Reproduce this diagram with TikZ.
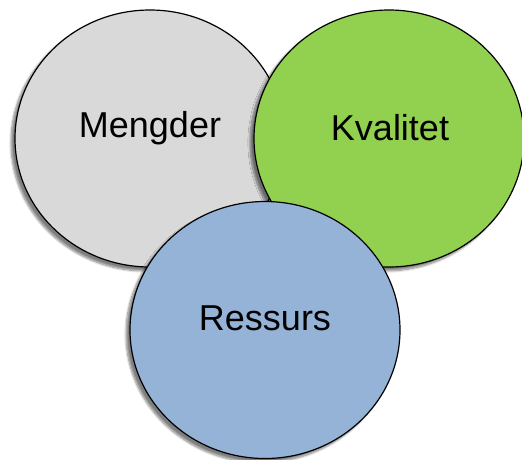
\documentclass[tikz,border=0pt]{standalone}
\usepackage{fontspec}
\setmainfont{Liberation Sans}
\usetikzlibrary{shapes.geometric,shadows.blur}
\definecolor{mggrey}{HTML}{D9D9D9}
\definecolor{mggreen}{HTML}{92D050}
\definecolor{mgblue}{HTML}{95B3D7}

\tikzset{
  blob/.style={draw=black, line width=1.2pt, ellipse, inner sep=0pt,
    minimum width=270pt, minimum height=257pt,
    blur shadow={shadow xshift=-4pt, shadow yshift=-4pt, shadow blur steps=8, shadow opacity=50}},
  blobtext/.style={font=\fontsize{36}{40}\selectfont, inner sep=0pt}
}

\begin{document}
\begin{tikzpicture}[x=1pt, y=-1pt]
  \useasboundingbox (0,0) rectangle (522,459);

  % Mengder circle
  \node[blob, fill=mggrey] (mengder) at (150,138.5) {};
  \node[blobtext] (mengdertxt) at (150,128) {Mengder};

  % Kvalitet circle
  \node[blob, fill=mggreen] (kvalitet) at (389,138.5) {};
  \node[blobtext] (kvalitettxt) at (390,128) {Kvalitet};

  % Ressurs circle
  \node[blob, fill=mgblue] (ressurs) at (265,330) {};
  \node[blobtext] (ressurstxt) at (265,318) {Ressurs};
\end{tikzpicture}
\end{document}
